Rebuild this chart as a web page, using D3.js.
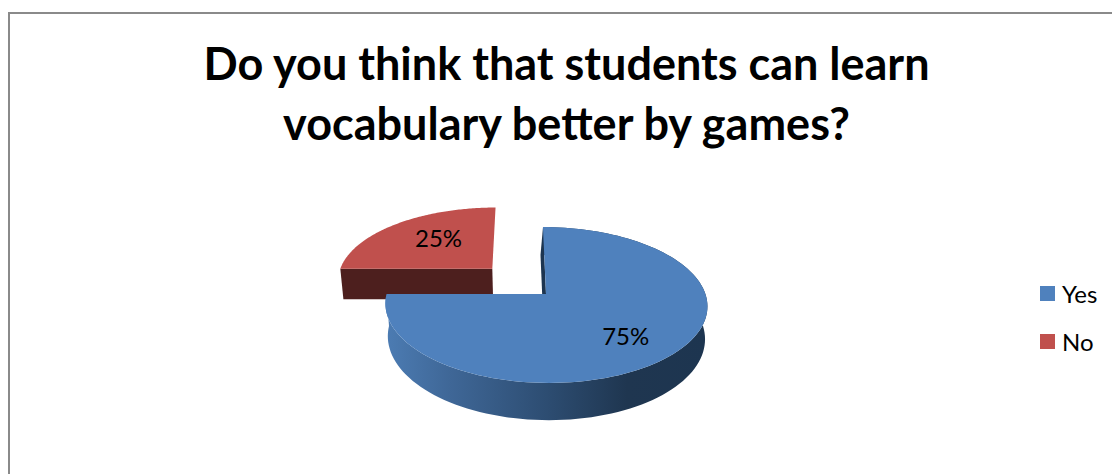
<!DOCTYPE html>
<html>
<head>
<meta charset="utf-8">
<script src="https://cdn.jsdelivr.net/npm/d3@7"></script>
<style>
  html, body { margin: 0; padding: 0; background: #fff; }
  svg { display: block; }
  text { font-family: Lato, "Open Sans", sans-serif; fill: #000; }
</style>
</head>
<body>
<div id="chart"></div>
<script>
const titleLines = ["Do you think that students can learn", "vocabulary better by games?"];
const categories = ["Yes", "No"];
const values = [75, 25];
const labels = ["75%", "25%"];
const topColors = ["#4f81bd", "#c0504d"];
const explosions = [0, 0.49];

const width = 1112, height = 474;
const svg = d3.select("#chart").append("svg").attr("width", width).attr("height", height);

// Tilted-disc projection: unit-circle coordinates plus depth to screen pixels.
const view = { cx: 546, cy: 294, rx: 159.4, ry: 76.4, persp: 0.141, shear: 3, depth: 32, taper: 0.985 };
function project(x, y, z) {
  const s = 1 / (1 - view.persp * y);
  const k = z ? view.taper : 1;
  return [
    view.cx + view.rx * x * s * k + view.shear * y,
    view.cy + s * (view.ry * y + view.depth * z)
  ];
}

const pie = d3.pie().value(d => d).sort(null);
const arcs = pie(values);
const line = d3.line();

function offsetOf(a, i) {
  const mid = (a.startAngle + a.endAngle) / 2;
  return [Math.sin(mid) * explosions[i], -Math.cos(mid) * explosions[i]];
}
function rim(a, i, z) {
  const [ox, oy] = offsetOf(a, i);
  return d3.range(0, 121).map(j => {
    const t = a.startAngle + (a.endAngle - a.startAngle) * j / 120;
    return project(ox + Math.sin(t), oy - Math.cos(t), z);
  });
}
function apex(a, i, z) {
  const [ox, oy] = offsetOf(a, i);
  return project(ox, oy, z);
}

const defs = svg.append("defs");
const sideGradient = defs.append("linearGradient").attr("id", "blueSide");
[[0, "#4c7cb3"], [0.2, "#3f6797"], [0.5, "#2d4d72"], [0.75, "#1f3650"], [1, "#1d3550"]]
  .forEach(([o, c]) => sideGradient.append("stop").attr("offset", o).attr("stop-color", c));

// Chart frame: only the top and left edges fall inside the view.
svg.append("path")
  .attr("d", line([[9, height], [9, 13], [width, 13]]))
  .attr("fill", "none").attr("stroke", "#8a8a8a").attr("stroke-width", 2);

const title = svg.append("text").attr("text-anchor", "middle").attr("font-weight", 700).attr("font-size", 45);
titleLines.forEach((t, i) => title.append("tspan").attr("x", 566.5).attr("y", 80 + i * 60).text(t));

// The detached slice sits behind the large one.
const sideColors = ["url(#blueSide)", "#4d1f1e"];
[1, 0].forEach(i => {
  const a = arcs[i];
  const g = svg.append("g");
  if (i === 1) {
    // Flat front wall along the slice's lower radial edge.
    const start = rim(a, i, 0)[0], startLow = rim(a, i, 1)[0];
    g.append("path")
      .attr("d", line([start, apex(a, i, 0), apex(a, i, 1), startLow]) + "Z")
      .attr("fill", sideColors[i]);
  } else {
    // Outer curved wall, then the sliver of inner wall beside the upper radius.
    const upper = rim(a, i, 0), lower = rim(a, i, 1);
    g.append("path")
      .attr("d", line(upper.concat(lower.slice().reverse())) + "Z")
      .attr("fill", sideColors[i]);
    const lean = 2.5;
    const p0 = apex(a, i, 0), p1 = upper[0], p2 = lower[0], p3 = apex(a, i, 1);
    g.append("path")
      .attr("d", line([p0, p1, [p2[0] - lean, p2[1]], [p3[0] - lean, p3[1]]]) + "Z")
      .attr("fill", "#1d3550");
  }
  g.append("path")
    .attr("d", line([apex(a, i, 0)].concat(rim(a, i, 0))) + "Z")
    .attr("fill", topColors[i]);
});

// Value labels sit on the top faces.
const labelAnchors = [[0.455, 0.51], [-0.735, -0.82]];
labels.forEach((t, i) => {
  const p = project(labelAnchors[i][0], labelAnchors[i][1], 0);
  svg.append("text").attr("x", p[0]).attr("y", p[1]).attr("text-anchor", "middle")
    .attr("dominant-baseline", "central").attr("font-size", 24).text(t);
});

// Legend
const legendY = d3.scalePoint().domain(categories).range([293, 341]);
categories.forEach((c, i) => {
  svg.append("rect").attr("x", 1040).attr("y", legendY(c) - 7).attr("width", 15).attr("height", 15)
    .attr("fill", topColors[i]);
  svg.append("text").attr("x", 1062).attr("y", legendY(c)).attr("dominant-baseline", "central")
    .attr("font-size", 24).text(c);
});
</script>
</body>
</html>
